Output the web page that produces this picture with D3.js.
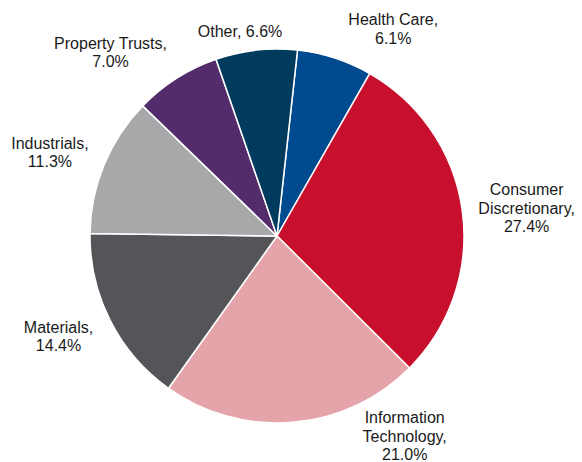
<!DOCTYPE html>
<html>
<head>
<meta charset="utf-8">
<script src="https://cdn.jsdelivr.net/npm/d3@7"></script>
<style>
  body { margin: 0; background: #fff; }
  svg { display: block; }
</style>
</head>
<body>
<svg id="chart" width="582" height="462"></svg>
<script>
// sector weights, clockwise from just right of 12 o'clock
const sectors = ["Health Care", "Consumer Discretionary", "Information Technology", "Materials", "Industrials", "Property Trusts", "Other"];
const weights = [6.1, 27.4, 21.0, 14.4, 11.3, 7.0, 6.6];
const labelLines = [
    ["Health Care,", "6.1%"],
    ["Consumer", "Discretionary,", "27.4%"],
    ["Information", "Technology,", "21.0%"],
    ["Materials,", "14.4%"],
    ["Industrials,", "11.3%"],
    ["Property Trusts,", "7.0%"],
    ["Other, 6.6%"]
];
const sectorColors = ["#004a8f", "#c8102e", "#e5a4aa", "#545559", "#a7a8aa", "#532c6b", "#003a5d"];

// label nudges from the outer label ring (hand placed in the original)
const labelShift = [[44, 15], [18, 3], [108, -33], [-10, -6], [-11, 5], [-41, 13], [-11, 27]];

const svg = d3.select("#chart");
const cx = 277, cy = 236, radius = 187;
const fontSize = 16, lineHeight = 18.5;

const data = sectors.map((s, i) => ({sector: s, value: weights[i], i: i}));

const startAngle = 6.3 * Math.PI / 180;
const pie = d3.pie()
        .value(d => d.value)
        .sort(null)
        .startAngle(startAngle)
        .endAngle(startAngle + 2 * Math.PI);

const arc = d3.arc().innerRadius(0).outerRadius(radius);
const labelArc = d3.arc().innerRadius(radius * 1.25).outerRadius(radius * 1.25);

const g = svg.append("g").attr("transform", `translate(${cx},${cy})`);

g.selectAll("path.slice")
        .data(pie(data))
        .enter().append("path")
        .attr("class", "slice")
        .attr("d", arc)
        .attr("fill", d => sectorColors[d.data.i])
        .attr("stroke", "#fff")
        .attr("stroke-width", 1.5)
        .attr("stroke-linejoin", "round");

const labels = g.selectAll("text.label")
        .data(pie(data))
        .enter().append("text")
        .attr("class", "label")
        .attr("font-family", "Arial, 'Liberation Sans', sans-serif")
        .attr("font-size", fontSize)
        .attr("fill", "#1a1a1a")
        .attr("text-anchor", "middle")
        .attr("transform", d => {
            const c = labelArc.centroid(d);
            const s = labelShift[d.data.i];
            return `translate(${c[0] + s[0]},${c[1] + s[1]})`;
        });

labels.each(function (d) {
    const lines = labelLines[d.data.i];
    const top = -(lines.length - 1) * lineHeight / 2 + 6;
    d3.select(this).selectAll("tspan")
            .data(lines)
            .enter().append("tspan")
            .attr("x", 0)
            .attr("y", (t, k) => top + k * lineHeight)
            .text(t => t);
});
</script>
</body>
</html>
